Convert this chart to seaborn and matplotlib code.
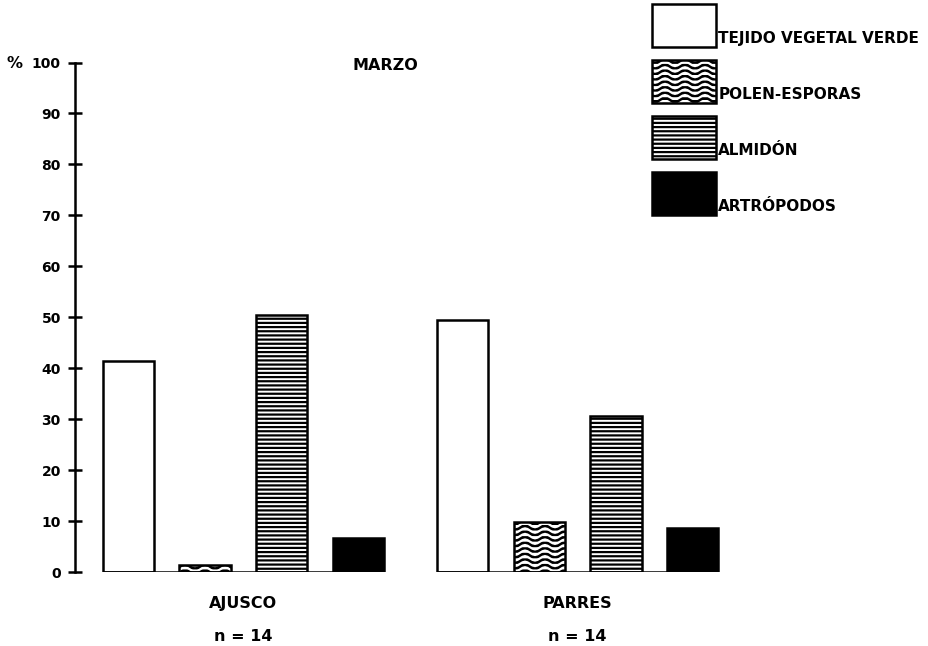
import numpy as np
import pandas as pd
import matplotlib
matplotlib.use("Agg")
import matplotlib.pyplot as plt
import matplotlib.patches as mpatches
import matplotlib.hatch as mhatch
import matplotlib.transforms as mtransforms
from matplotlib.path import Path
import seaborn as sns

# ---------------- data ----------------
sites = ["AJUSCO", "PARRES"]
n_labels = ["n = 14", "n = 14"]
categories = ["TEJIDO VEGETAL VERDE", "POLEN-ESPORAS", "ALMIDÓN", "ARTRÓPODOS"]
tejido = [41.5, 49.5]
polen = [1.3, 9.8]
almidon = [50.5, 30.7]
artropodos = [6.7, 8.6]
yticks = [0, 10, 20, 30, 40, 50, 60, 70, 80, 90, 100]
title = "MARZO"


# ---------------- custom wavy hatch (uses the '|' character) ----------------
class WavyHatch(mhatch.HatchPatternBase):
    npts = 41

    def __init__(self, hatch, density):
        self.num_lines = int(hatch.count('|') * density)
        self.num_vertices = self.num_lines * self.npts

    def set_vertices_and_codes(self, vertices, codes):
        xs = np.linspace(0.0, 1.0, self.npts)
        steps = (np.arange(self.num_lines) + 0.5) / self.num_lines
        for i, s in enumerate(steps):
            sl = slice(i * self.npts, (i + 1) * self.npts)
            vertices[sl, 0] = xs
            vertices[sl, 1] = s + 0.022 * np.sin(2 * np.pi * 5 * xs)
            codes[sl] = Path.LINETO
            codes[i * self.npts] = Path.MOVETO


mhatch._hatch_types = [mhatch.HorizontalHatch, WavyHatch]

sns.set_theme(style="white")
plt.rcParams["font.family"] = ["DejaVu Sans"]
plt.rcParams["font.weight"] = "bold"
plt.rcParams["hatch.linewidth"] = 1.6
for key in ["text.color", "axes.labelcolor", "xtick.color", "ytick.color"]:
    plt.rcParams[key] = "black"

df = pd.DataFrame({
    "site": np.repeat(sites, len(categories)),
    "cat": categories * len(sites),
    "val": [v for i in range(len(sites)) for v in (tejido[i], polen[i], almidon[i], artropodos[i])],
})

fig = plt.figure(figsize=(9.29, 6.46), dpi=100)
ax = fig.add_axes([75 / 929, 74 / 646, 703 / 929, 509.5 / 646])

sns.barplot(data=df, x="site", y="val", hue="cat", order=sites, hue_order=categories,
            width=0.92, gap=0.335, dodge=True, ax=ax, legend=False, errorbar=None,
            palette=["white", "black", "white", "black"], saturation=1)

styles = {
    "TEJIDO VEGETAL VERDE": dict(fc="white", hatch=None, hc=None),
    "POLEN-ESPORAS": dict(fc="black", hatch="|||", hc="white"),
    "ALMIDÓN": dict(fc="white", hatch="----", hc="black"),
    "ARTRÓPODOS": dict(fc="black", hatch=None, hc=None),
}

bars = [p for p in ax.patches if isinstance(p, mpatches.Rectangle) and p.get_width() > 0]
# seaborn draws bars hue-by-hue
for k, p in enumerate(bars):
    cat = categories[k // len(sites)]
    st = styles[cat]
    p.set_facecolor(st["fc"])
    p.set_edgecolor("black")
    p.set_linewidth(1.8)
    if st["hatch"]:
        p.set_hatch(st["hatch"])
        p._hatch_color = matplotlib.colors.to_rgba(st["hc"])

# group baselines
for i in range(len(sites)):
    grp = [p for p in bars if abs((p.get_x() + p.get_width() / 2) - i) < 0.5]
    x0 = min(p.get_x() for p in grp)
    x1 = max(p.get_x() + p.get_width() for p in grp)
    ax.plot([x0, x1], [0, 0], color="black", lw=1.8, solid_capstyle="butt", zorder=5)

ax.set_ylim(0, 100)
ax.set_xlim(-0.504, 1.6)
ax.set_yticks(yticks)
ax.set_yticklabels([str(t) for t in yticks], fontsize=10, fontweight="bold")
ax.set_xticks(range(len(sites)))
ax.set_xticklabels([f"{s}\n{n}" for s, n in zip(sites, n_labels)], fontsize=11.5,
                   fontweight="bold", linespacing=2.55)
ax.tick_params(axis="y", direction="inout", length=10.5, width=1.8, pad=5, left=True, colors="black")
ax.tick_params(axis="x", length=0, pad=17, colors="black")
sns.despine(ax=ax, left=False, bottom=True)
ax.spines["left"].set_linewidth(1.8)
ax.spines["left"].set_color("black")
ax.set_xlabel("")
ax.set_ylabel("")
ax.grid(False)

fig.text(7 / 929, 1 - 63 / 646, "%", fontsize=11.5, fontweight="bold", ha="left", va="center")
fig.text(385 / 929, 1 - 65 / 646, title, fontsize=11.5, fontweight="bold", ha="center", va="center")

handles = []
for cat in categories:
    st = styles[cat]
    h = mpatches.Patch(facecolor=st["fc"], edgecolor="black", linewidth=1.8,
                       hatch=st["hatch"])
    if st["hatch"]:
        h._hatch_color = matplotlib.colors.to_rgba(st["hc"])
    handles.append(h)

fs = 11.0
hh = (31.0 - 0.245 * fs) / (0.65 * fs)       # box height ~43 px
leg = fig.legend(handles, categories, loc="upper left", bbox_to_anchor=(652 / 929, 1 - 4 / 646),
                 frameon=False, prop={"weight": "bold", "size": fs},
                 handlelength=46.0 / fs, handleheight=hh, labelspacing=9.3 / fs,
                 handletextpad=0.15, borderpad=0, borderaxespad=0)
# lower each label so that it sits near the bottom of its swatch, as in the reference
descent_pt = 0.35 * fs * (hh - 0.7)
shift = mtransforms.ScaledTranslation(0, -(descent_pt - 3.0) / 72.0, fig.dpi_scale_trans)
for t in leg.get_texts():
    t.set_transform(t.get_transform() + shift)

fig.savefig("out.png", dpi=100)
